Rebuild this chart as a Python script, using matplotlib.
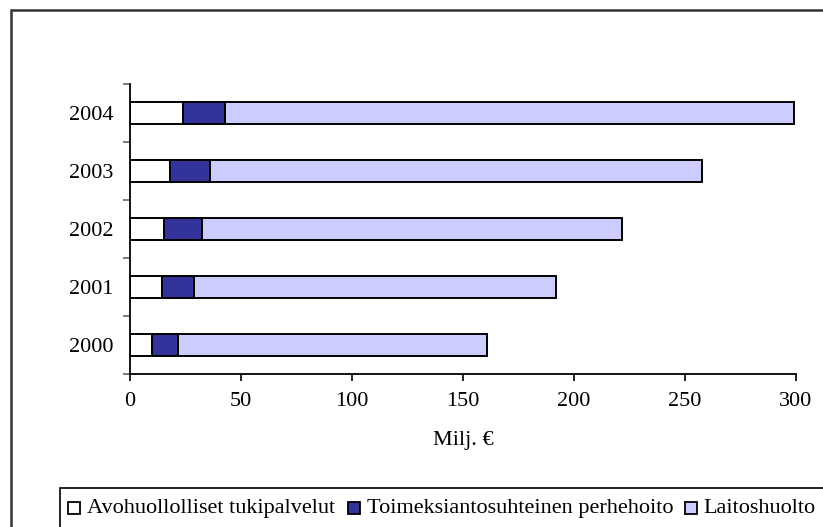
import matplotlib
matplotlib.use("Agg")
import matplotlib.pyplot as plt
from matplotlib.patches import Rectangle
import numpy as np

years = ["2000", "2001", "2002", "2003", "2004"]
avohuolto = [10, 14.5, 15.5, 18, 24]
perhehoito = [11.5, 14.5, 17, 18, 19]
laitoshuolto = [139.5, 163, 189, 221.5, 256]
series_names = ["Avohuollolliset tukipalvelut", "Toimeksiantosuhteinen perhehoito", "Laitoshuolto"]
colors = ["#FFFFFF", "#333399", "#CCCCFF"]
xticks = [0, 50, 100, 150, 200, 250, 300]

plt.rcParams['font.family'] = ['Liberation Serif', 'DejaVu Serif']
W, H = 823, 527
fig = plt.figure(figsize=(W/100, H/100), dpi=100)

def fx(px):
    return px / W

def fy(py):
    return 1 - py / H

# outer frame
fig.patches.append(Rectangle((fx(11), -0.1), 1.2, fy(10) + 0.1, transform=fig.transFigure,
                             fill=False, edgecolor="#333333", linewidth=1.8))

ax = fig.add_axes([fx(130), fy(374), fx(796) - fx(130), fy(84) - fy(374)])
y = np.arange(len(years))
h = 0.38
left = np.zeros(len(years))
for vals, c, name in zip([avohuolto, perhehoito, laitoshuolto], colors, series_names):
    ax.barh(y, vals, left=left, height=h, color=c, edgecolor="black", linewidth=1.4, label=name)
    left = left + np.array(vals)

ax.set_xlim(0, 300)
ax.set_ylim(-0.5, len(years) - 0.5)
ax.set_xticks(xticks)
ax.set_xticklabels([str(t) for t in xticks], fontsize=16)
ax.set_yticks(y)
ax.set_yticklabels(years, fontsize=16)
ax.set_yticks(np.arange(len(years) + 1) - 0.5, minor=True)
ax.tick_params(axis='y', which='major', length=0, pad=12)
ax.tick_params(axis='y', which='minor', length=5, width=1.2, color="#666666")
ax.tick_params(axis='x', which='major', length=5, width=1.2, pad=8)
for s in ["top", "right"]:
    ax.spines[s].set_visible(False)
for s in ["left", "bottom"]:
    ax.spines[s].set_linewidth(1.3)
ax.set_xlabel("Milj. €", fontsize=16, labelpad=14)

# legend box (drawn manually to match the reference spacing)
fig.patches.append(Rectangle((fx(60), -0.1), 1.2, fy(488) + 0.1, transform=fig.transFigure,
                             fill=False, edgecolor="black", linewidth=1.2))
sq_x = [68, 348, 685]
txt_x = [87, 367, 703]
sq_top, sq_size = 502, 12
baseline = 513
for sx, tx, c, name in zip(sq_x, txt_x, colors, series_names):
    fig.patches.append(Rectangle((fx(sx), fy(sq_top + sq_size)), sq_size / W, sq_size / H,
                                 transform=fig.transFigure,
                                 facecolor=c, edgecolor="black", linewidth=1.3))
    fig.text(fx(tx), fy(baseline), name, fontsize=16, ha="left", va="baseline")

fig.savefig("out.png", dpi=100)
